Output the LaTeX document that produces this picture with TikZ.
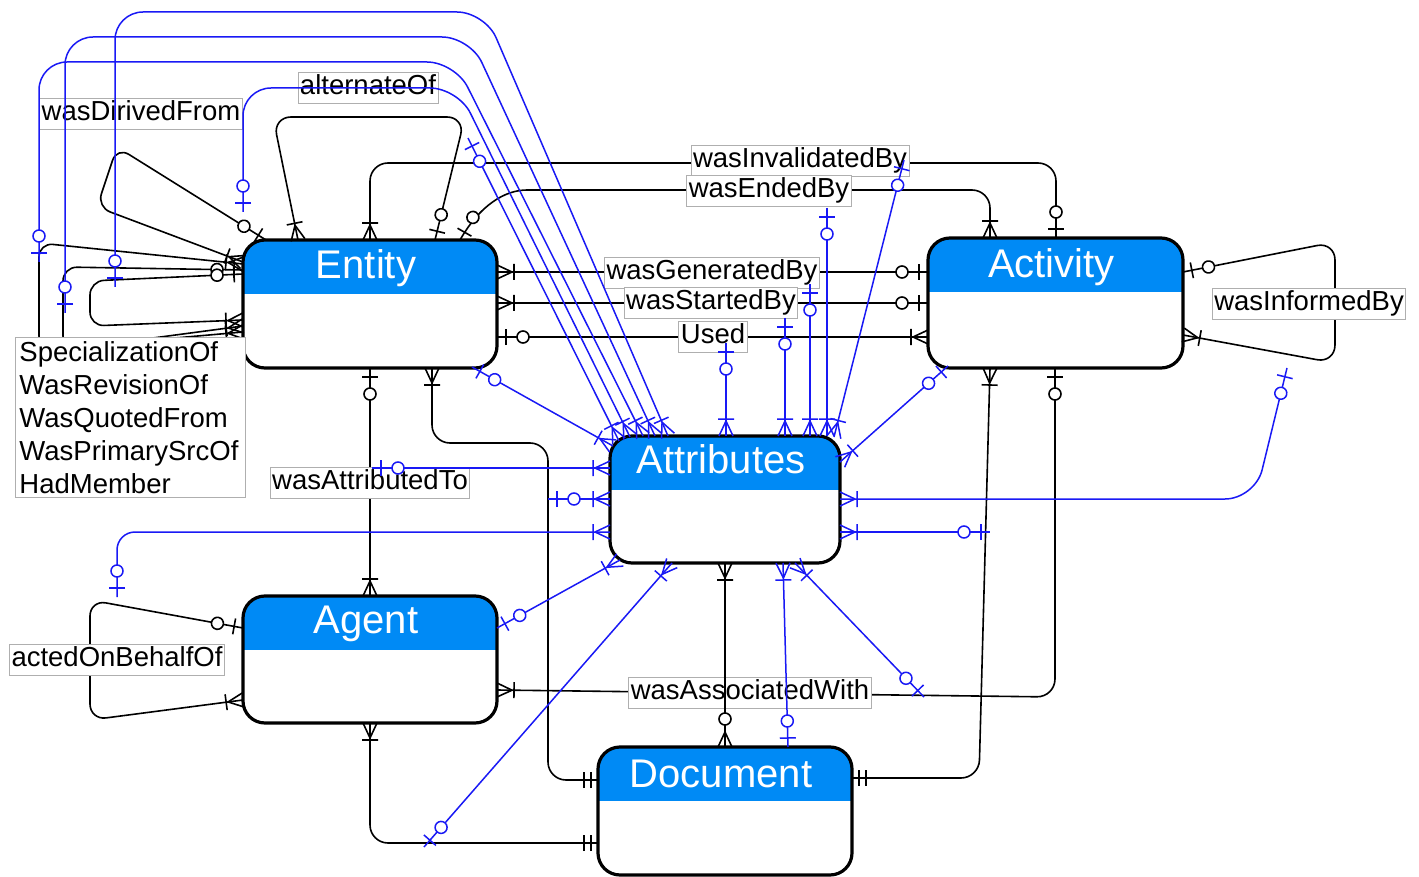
\documentclass[tikz,border=0pt]{standalone}
\usepackage{fontspec}
\newfontfamily\diafont{Liberation Sans}
\usetikzlibrary{calc,decorations.markings}
\definecolor{hdrblue}{RGB}{0,138,245}
\definecolor{linkblue}{RGB}{25,25,245}
\definecolor{lblgray}{RGB}{175,175,175}

% ER end symbols, drawn with +x pointing into the entity
\newcommand\tipOM{\draw (-15pt,0pt) -- (0pt,7pt) (-15pt,0pt) -- (0pt,-7pt) (-17pt,-8pt) -- (-17pt,8pt);}
\newcommand\tipZM{\draw (-15pt,0pt) -- (0pt,7pt) (-15pt,0pt) -- (0pt,-7pt); \draw[fill=white] (-28pt,0pt) circle (6pt);}
\newcommand\tipZO{\draw (-9pt,-8pt) -- (-9pt,8pt); \draw[fill=white] (-26pt,0pt) circle (6pt);}
\newcommand\tipOO{\draw (-7pt,-8pt) -- (-7pt,8pt) (-14pt,-8pt) -- (-14pt,8pt);}

\tikzset{
  ends/.style 2 args={postaction={decorate,decoration={markings,
      mark=at position 0 with {\begin{scope}[xscale=-1]#1\end{scope}},
      mark=at position 1 with {#2}}}},
  entbox/.style={draw=black, line width=3.2pt, rounded corners=22pt, fill=white,
      inner sep=0pt, outer sep=0pt,
      path picture={\fill[hdrblue, sharp corners] (path picture bounding box.north west)
         rectangle ($(path picture bounding box.north east)+(0,54)$);}},
  ttl/.style={text=white, font=\diafont\fontsize{40}{40}\selectfont, inner sep=0pt, anchor=base},
  lbl/.style={draw=lblgray, line width=0.9pt, fill=white, inner xsep=2pt, inner ysep=2.5pt,
      text height=20pt, text depth=6.5pt, font=\diafont\fontsize{27.5}{33}\selectfont},
  lk/.style={line width=1.6pt, color=black, rounded corners=18pt},
  bl/.style={line width=1.5pt, color=linkblue, rounded corners=28pt},
}

\begin{document}
\begin{tikzpicture}[x=1pt,y=-1pt]
\fill[white] (0,0) rectangle (1419,877);
\useasboundingbox (0,0) rectangle (1419,877);

% ---------- entities ----------
\node[entbox, minimum width=254pt, minimum height=128pt] (ent) at (370,304) {};
\node[entbox, minimum width=255pt, minimum height=130pt] (act) at (1055.5,303) {};
\node[entbox, minimum width=230pt, minimum height=127pt] (attr) at (725,499.5) {};
\node[entbox, minimum width=254pt, minimum height=127pt] (agent) at (370,659.5) {};
\node[entbox, minimum width=254pt, minimum height=128pt] (doc) at (725,811) {};

\node[ttl] (ent-t) at ($(ent.north)+(-4,39)$) {Entity};
\node[ttl] (act-t) at ($(act.north)+(-4,40)$) {Activity};
\node[ttl] (attr-t) at ($(attr.north)+(-4,37)$) {Attributes};
\node[ttl] (agent-t) at ($(agent.north)+(-4,37)$) {Agent};
\node[ttl] (doc-t) at ($(doc.north)+(-4,40)$) {Document};

% ---------- Entity self relations on the left ----------
\draw[lk, rounded corners=14pt, ends={\tipOM}{\tipOM}] ($(ent.north west)+(0,24)$) -- (39,243) -- (39,350) -- ($(ent.north west)+(0,92)$);
\draw[lk, rounded corners=14pt, ends={\tipZO}{\tipOM}] ($(ent.north west)+(0,30)$) -- (63,267) -- (63,350) -- ($(ent.north west)+(0,86)$);
\draw[lk, rounded corners=14pt, ends={\tipZO}{\tipOM}] ($(ent.north west)+(0,34)$) -- (90,281) -- (90,326) -- ($(ent.north west)+(0,80)$);
\draw[lk, rounded corners=14pt, ends={\tipZO}{\tipOM}] ($(ent.north west)+(23,0)$) -- (117,147) -- (97,207) -- ($(ent.north west)+(0,22)$);

\node[draw=lblgray, line width=0.9pt, fill=white, anchor=north west, align=left,
      text width=222pt, inner sep=4pt, font=\diafont\fontsize{27.5}{33}\selectfont]
  (l-spec) at (15,337) {SpecializationOf\\WasRevisionOf\\WasQuotedFrom\\WasPrimarySrcOf\\HadMember};

% alternateOf loop on top of Entity
\draw[lk, ends={\tipOM}{\tipZO}] ($(ent.north west)+(55,0)$) -- (273,117) -- (465,117) -- ($(ent.north west)+(192,0)$);
\node[lbl] (l-alt) at (368,88) {alternateOf};
\node[lbl] (l-der) at (141,114) {wasDirivedFrom};

% ---------- Entity -- Activity ----------
\draw[lk, ends={\tipOM}{\tipZO}] ($(ent.north west)+(127,0)$) -- (370,163) -- (1056,163) -- ($(act.north west)+(128,0)$);
\node[lbl] (l-inv) at (800,161) {wasInvalidatedBy};
\draw[lk, ends={\tipZO}{\tipOM}] ($(ent.north west)+(217,0)$) .. controls (480,205) and (505,190) .. (545,190) -- (990,190) -- ($(act.north west)+(62,0)$);
\node[lbl] (l-end) at (769,191) {wasEndedBy};

\draw[lk, ends={\tipOM}{\tipZO}] ($(ent.north east)+(0,32)$) -- ($(act.north west)+(0,34)$);
\node[lbl] (l-gen) at (712,273) {wasGeneratedBy};
\draw[lk, ends={\tipOM}{\tipZO}] ($(ent.north east)+(0,63)$) -- ($(act.north west)+(0,65)$);
\node[lbl] (l-sta) at (711,303) {wasStartedBy};
\draw[lk, ends={\tipZO}{\tipOM}] ($(ent.north east)+(0,97)$) -- ($(act.north west)+(0,99)$);
\node[lbl] (l-used) at (713,337) {Used};

% Activity self relation
\draw[lk, ends={\tipZO}{\tipOM}] ($(act.north east)+(0,34)$) -- (1335,242) -- (1335,363) -- ($(act.north east)+(0,97)$);
\node[lbl] (l-inf) at (1309,304) {wasInformedBy};

% ---------- Entity / Agent / Document ----------
\draw[lk, ends={\tipZO}{\tipOM}] ($(ent.south west)+(127,0)$) -- ($(agent.north west)+(127,0)$);
\node[lbl] (l-att) at (370,483) {wasAttributedTo};
\draw[lk, ends={\tipOM}{\tipOO}] ($(ent.south west)+(189,0)$) -- (432,443) -- (548,443) -- (548,780) -- ($(doc.north west)+(0,33)$);
\draw[lk, ends={\tipOM}{\tipOO}] ($(agent.south west)+(127,0)$) -- (370,843) -- ($(doc.north west)+(0,96)$);
\draw[lk, ends={\tipOM}{\tipOO}] ($(act.south west)+(62,0)$) -- (979,778) -- ($(doc.north east)+(0,31)$);
\draw[lk, ends={\tipZO}{\tipOM}] ($(act.south west)+(127,0)$) -- (1055,697) -- ($(agent.north east)+(0,94)$);
\node[lbl] (l-ass) at (750,693) {wasAssociatedWith};
\draw[lk, ends={\tipOM}{\tipZM}] ($(attr.south west)+(115,0)$) -- ($(doc.north west)+(127,0)$);

% Agent self relation
\draw[lk, rounded corners=16pt, ends={\tipZO}{\tipOM}] ($(agent.north west)+(0,32)$) -- (90,600) -- (90,720) -- ($(agent.north west)+(0,104)$);
\node[lbl] (l-act) at (117,660) {actedOnBehalfOf};

% ---------- attribute links ----------
\coordinate (a-der1) at (115,287);
\coordinate (a-der2) at (65,313);
\coordinate (a-der3) at (39,262);
\coordinate (a-der4) at (243,212);
\coordinate (a-alt) at (468,138);
\coordinate (a-used) at (726,343);
\coordinate (a-sta) at (785,318);
\coordinate (a-gen) at (810,284);
\coordinate (a-end) at (827,208);
\coordinate (a-inv) at (904,160);
\coordinate (a-inf) at (1287,368);
\coordinate (a-actdoc) at (990,532);
\coordinate (a-att) at (372,468);
\coordinate (a-entdoc) at (548,499);
\coordinate (a-beh) at (117,597);
\coordinate (a-agdoc) at (424,847);
\coordinate (a-ass) at (924,697);

\draw[bl, ends={\tipZO}{\tipOM}] (a-der1) -- (115,12) -- (485,12) -- ($(attr.north west)+(58,0)$);
\draw[bl, ends={\tipZO}{\tipOM}] (a-der2) -- (65,37) -- (470,37) -- ($(attr.north west)+(45,0)$);
\draw[bl, ends={\tipZO}{\tipOM}] (a-der3) -- (39,62) -- (455,62) -- ($(attr.north west)+(33,0)$);
\draw[bl, ends={\tipZO}{\tipOM}] (a-der4) -- (243,88) -- (458,88) -- ($(attr.north west)+(20,1)$);
\draw[bl, ends={\tipZO}{\tipOM}] (a-alt) -- ($(attr.north west)+(9,5)$);
\draw[bl, ends={\tipZO}{\tipOM}] ($(ent.south east)+(-25,-1)$) -- ($(attr.north west)+(3,10)$);

\draw[bl, ends={\tipZO}{\tipOM}] (a-used) -- ($(attr.north west)+(116,0)$);
\draw[bl, ends={\tipZO}{\tipOM}] (a-sta) -- ($(attr.north west)+(175,0)$);
\draw[bl, ends={\tipZO}{\tipOM}] (a-gen) -- ($(attr.north west)+(200,0)$);
\draw[bl, ends={\tipZO}{\tipOM}] (a-end) -- ($(attr.north west)+(217,0)$);
\draw[bl, ends={\tipZO}{\tipOM}] (a-inv) -- ($(attr.north east)+(-6,1)$);

\draw[bl, ends={\tipZO}{\tipOM}] ($(act.south west)+(20,-2)$) -- ($(attr.north east)+(0,26)$);
\draw[bl, rounded corners=30pt, ends={\tipOM}{\tipZO}] ($(attr.north east)+(0,63)$) -- (1255,499) -- (a-inf);
\draw[bl, ends={\tipOM}{\tipZO}] ($(attr.north east)+(0,96)$) -- (a-actdoc);

\draw[bl, ends={\tipZO}{\tipOM}] (a-att) -- ($(attr.north west)+(0,32)$);
\draw[bl, ends={\tipZO}{\tipOM}] (a-entdoc) -- ($(attr.north west)+(0,63)$);
\draw[bl, rounded corners=18pt, ends={\tipZO}{\tipOM}] (a-beh) -- (117,532) -- ($(attr.north west)+(0,96)$);

\draw[bl, ends={\tipZO}{\tipOM}] ($(agent.north east)+(0,32)$) -- ($(attr.south west)+(10,-3)$);
\draw[bl, ends={\tipZO}{\tipOM}] (a-agdoc) -- ($(attr.south west)+(62,0)$);
\draw[bl, ends={\tipZO}{\tipOM}] ($(doc.north west)+(190,0)$) -- ($(attr.south west)+(173,0)$);
\draw[bl, ends={\tipZO}{\tipOM}] (a-ass) -- ($(attr.south west)+(185,0)$);
\end{tikzpicture}
\end{document}
